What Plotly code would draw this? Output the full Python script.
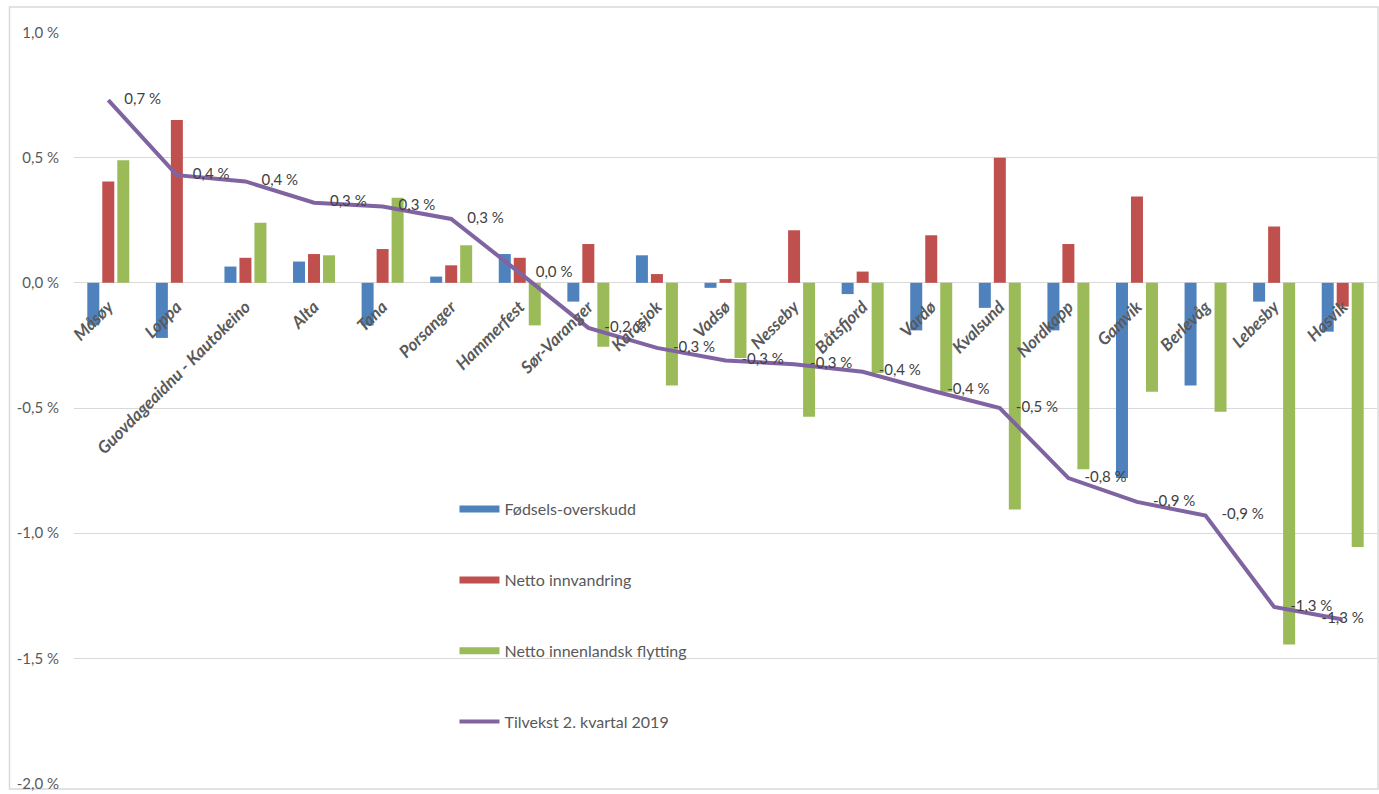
import plotly.graph_objects as go

categories = ["Måsøy", "Loppa", "Guovdageaidnu - Kautokeino", "Alta", "Tana", "Porsanger",
              "Hammerfest", "Sør-Varanger", "Karasjok", "Vadsø", "Nesseby", "Båtsfjord",
              "Vardø", "Kvalsund", "Nordkapp", "Gamvik", "Berlevåg", "Lebesby", "Hasvik"]

fodselsoverskudd = [-0.17, -0.22, 0.065, 0.085, -0.17, 0.025, 0.115, -0.075, 0.11, -0.02,
                    0.0, -0.045, -0.19, -0.10, -0.19, -0.78, -0.41, -0.075, -0.195]
netto_innvandring = [0.405, 0.65, 0.10, 0.115, 0.135, 0.07, 0.10, 0.155, 0.035, 0.015,
                     0.21, 0.045, 0.19, 0.50, 0.155, 0.345, 0.0, 0.225, -0.095]
netto_innenlandsk = [0.49, 0.0, 0.24, 0.11, 0.34, 0.15, -0.17, -0.255, -0.41, -0.30,
                     -0.535, -0.36, -0.435, -0.905, -0.745, -0.435, -0.515, -1.445, -1.055]
tilvekst = [0.73, 0.43, 0.405, 0.32, 0.305, 0.255, 0.04, -0.18, -0.26, -0.31,
            -0.325, -0.355, -0.43, -0.50, -0.78, -0.875, -0.93, -1.295, -1.345]

y_tickvals = [-2.0, -1.5, -1.0, -0.5, 0.0, 0.5, 1.0]
y_ticktext = ["-2,0 %", "-1,5 %", "-1,0 %", "-0,5 %", "0,0 %", "0,5 %", "1,0 %"]

series_names = ["Fødsels-overskudd", "Netto innvandring", "Netto innenlandsk flytting",
                "Tilvekst 2. kvartal 2019"]
colors = ["#4F81BD", "#C0504D", "#9BBB59", "#8064A2"]

FONT = "Lato"
GRAY = "#595959"

def pct_label(v):
    return f"{v:.1f} %".replace(".", ",")

label_positions = ["middle right"] * (len(categories) - 1) + ["middle center"]

fig = go.Figure()
for vals, name, col in zip([fodselsoverskudd, netto_innvandring, netto_innenlandsk],
                           series_names[:3], colors[:3]):
    fig.add_trace(go.Bar(x=categories, y=vals, name=name, marker_color=col,
                         marker_line_width=0, showlegend=False, legendgroup=name))
    # legend proxy (wide rectangle-like symbol)
    fig.add_trace(go.Scatter(x=[None], y=[None], mode="lines", name=name,
                             line=dict(color=col, width=7), legendgroup=name,
                             showlegend=True))

fig.add_trace(go.Scatter(
    x=categories, y=tilvekst, name=series_names[3], mode="lines+markers+text",
    line=dict(color=colors[3], width=4),
    marker=dict(size=24, color="rgba(0,0,0,0)"),
    text=[pct_label(v) for v in tilvekst], textposition=label_positions,
    textfont=dict(family=FONT, size=15, color="#404040"),
    legendgroup=series_names[3], cliponaxis=False))

fig.update_layout(
    width=1379, height=794,
    margin=dict(l=74, r=2, t=32, b=6),
    paper_bgcolor="white", plot_bgcolor="white",
    barmode="group", bargap=0.344, bargroupgap=0.2,
    font=dict(family=FONT, color=GRAY, size=15),
    showlegend=True,
    legend=dict(x=0.292, y=0.388, xanchor="left", yanchor="top",
                bgcolor="rgba(0,0,0,0)", tracegroupgap=47, itemwidth=40,
                font=dict(family=FONT, size=16, color=GRAY), traceorder="grouped"),
    xaxis=dict(anchor="free", position=2 / 3, showgrid=False, showline=False,
               range=[-0.5, len(categories) - 0.5], autorange=False,
               zeroline=False, ticks="", tickangle=-45, ticklabelstandoff=10,
               tickfont=dict(family=FONT, size=17, color=GRAY, weight="bold", style="italic")),
    yaxis=dict(range=[-2.002, 1.002], autorange=False,
               tickvals=y_tickvals, ticktext=y_ticktext, ticklabeloverflow="allow",
               showgrid=True, gridcolor="#D9D9D9", gridwidth=1.3,
               zeroline=True, zerolinecolor="#D9D9D9", zerolinewidth=1.3,
               showline=False, ticks="", ticklabelstandoff=14,
               tickfont=dict(family=FONT, size=15, color=GRAY)),
    shapes=[dict(type="rect", xref="paper", yref="paper",
                 x0=-0.0495, x1=1.0008, y0=-0.0066, y1=1.0331,
                 line=dict(color="#D9D9D9", width=1.5), fillcolor="rgba(0,0,0,0)",
                 layer="below")],
)

fig.write_html("out.html", config={"displayModeBar": False},
               post_script="document.body.style.margin='0';document.body.style.overflow='hidden';")
